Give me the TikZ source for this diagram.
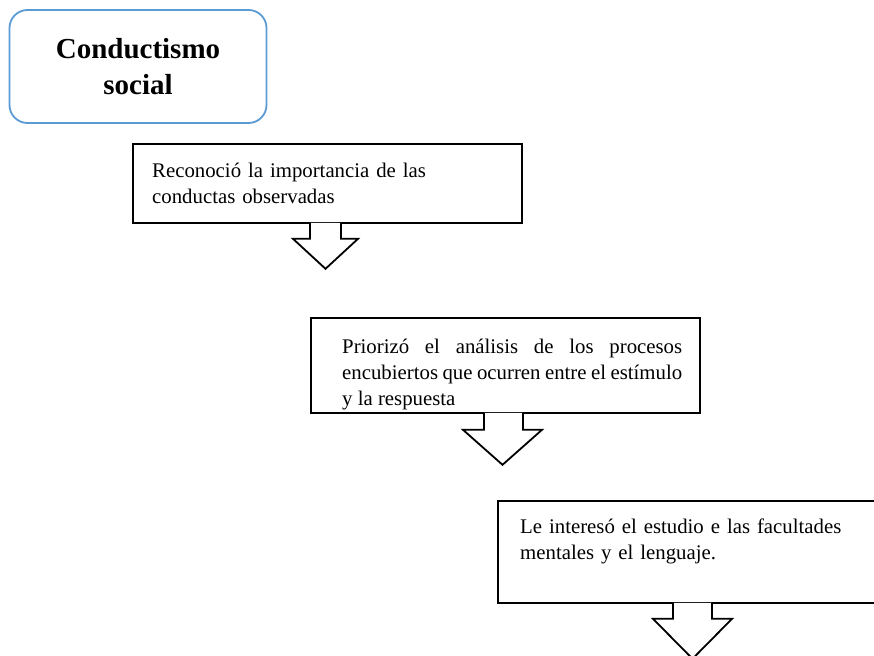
\documentclass[tikz,border=0pt]{standalone}
\usepackage{fontspec}
\setmainfont{Liberation Serif}
\definecolor{titleblue}{RGB}{91,155,213}
\begin{document}
\begin{tikzpicture}[x=1pt,y=-1pt,
  titlebox/.style={draw=titleblue, line width=1.8pt, rounded corners=18pt, fill=white,
    minimum width=257pt, minimum height=113pt, align=center, inner sep=0pt,
    font=\fontsize{29}{36}\selectfont\bfseries},
  stepbox/.style={draw=black, line width=1.8pt, fill=white, anchor=north west, inner sep=0pt},
  steptext/.style={anchor=north west, inner sep=0pt, font=\fontsize{20.8}{26}\selectfont},
  arrowshape/.style={draw=black, line width=1.8pt, fill=white, line join=miter}
]
\useasboundingbox (0,0) rectangle (874,655);
\clip (0,0) rectangle (874,655);
\fill[white] (0,0) rectangle (874,655);

% title
\node[titlebox] (title) at (138,66.5) {Conductismo\\social};

% box 1
\node[stepbox, minimum width=389pt, minimum height=79pt] (b1) at (132,143) {};
\path[arrowshape] ([xshift=178pt,yshift=0.9pt]b1.south west) -- ++(0,15.9) -- ++(-17,0)
  -- ++(32.5,30) -- ++(32.5,-30) -- ++(-17,0) -- ++(0,-15.9);
\node[steptext, text width=370pt, align=left] (t1) at (152,162.5)
  {Reconoció la importancia de las\\conductas observadas};

% box 2
\node[stepbox, minimum width=389pt, minimum height=95pt] (b2) at (310,317) {};
\path[arrowshape] ([xshift=174pt,yshift=0.9pt]b2.south west) -- ++(0,16.9) -- ++(-21,0)
  -- ++(39.5,35) -- ++(39.5,-35) -- ++(-19,0) -- ++(0,-16.9);
\node[steptext, text width=340pt, align=justify] (t2) at (342,338.5)
  {Priorizó el análisis de los procesos\linebreak encubiertos que ocurren entre el estímulo\\y la respuesta};

% box 3
\node[stepbox, minimum width=393pt, minimum height=102pt] (b3) at (497,500) {};
\path[arrowshape] ([xshift=176pt,yshift=0.9pt]b3.south west) -- ++(0,15.9) -- ++(-20,0)
  -- ++(39.5,40) -- ++(39.5,-40) -- ++(-20,0) -- ++(0,-15.9);
\node[steptext, text width=340pt, align=left] (t3) at (520,519)
  {Le interesó el estudio e las facultades\\mentales y el lenguaje.};
\end{tikzpicture}
\end{document}
